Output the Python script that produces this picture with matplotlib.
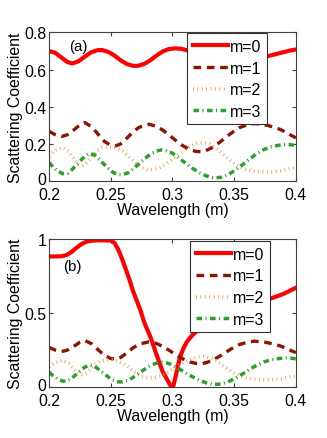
import numpy as np
import matplotlib
matplotlib.use("Agg")
import matplotlib.pyplot as plt
from matplotlib.transforms import ScaledTranslation

plt.rcParams['font.family'] = ['Liberation Sans', 'DejaVu Sans']

# m=0, panel (a)
wl_m0a = [0.200, 0.205, 0.210, 0.215, 0.219, 0.224, 0.229, 0.234, 0.239, 0.243,
          0.248, 0.253, 0.258, 0.263, 0.268, 0.272, 0.277, 0.282, 0.287, 0.292,
          0.297, 0.302, 0.307, 0.312, 0.318, 0.325, 0.332, 0.340, 0.348, 0.356,
          0.364, 0.372, 0.380, 0.388, 0.395, 0.400]
m0a = [0.700, 0.690, 0.665, 0.640, 0.633, 0.645, 0.670, 0.693, 0.704, 0.705,
       0.695, 0.675, 0.650, 0.630, 0.620, 0.620, 0.630, 0.650, 0.675, 0.697,
       0.710, 0.714, 0.712, 0.703, 0.688, 0.668, 0.650, 0.640, 0.638, 0.643,
       0.653, 0.664, 0.677, 0.690, 0.702, 0.708]

# m=0, panel (b)
wl_m0b = [0.200, 0.205, 0.210, 0.214, 0.218, 0.222, 0.226, 0.230, 0.235, 0.240,
          0.245, 0.250, 0.253, 0.256, 0.259, 0.262, 0.265, 0.268, 0.271, 0.274,
          0.277, 0.280, 0.283, 0.286, 0.289, 0.292, 0.295, 0.298, 0.3005, 0.303,
          0.306, 0.309, 0.312, 0.316, 0.320, 0.330, 0.340, 0.350, 0.360, 0.370,
          0.380, 0.390, 0.400]
m0b = [0.883, 0.883, 0.884, 0.892, 0.912, 0.940, 0.965, 0.982, 0.990, 0.992,
       0.992, 0.990, 0.975, 0.930, 0.870, 0.800, 0.730, 0.650, 0.585, 0.520,
       0.440, 0.380, 0.320, 0.245, 0.175, 0.105, 0.060, 0.015, 0.000, 0.090,
       0.200, 0.265, 0.310, 0.350, 0.380, 0.430, 0.470, 0.510, 0.545, 0.575,
       0.600, 0.630, 0.672]

# m=1 (same in both panels)
wl_m1 = [0.200, 0.205, 0.210, 0.215, 0.220, 0.225, 0.229, 0.235, 0.240, 0.245,
         0.250, 0.254, 0.258, 0.263, 0.268, 0.273, 0.281, 0.287, 0.292, 0.297,
         0.302, 0.308, 0.314, 0.319, 0.324, 0.329, 0.334, 0.339, 0.344, 0.349,
         0.354, 0.360, 0.366, 0.372, 0.377, 0.382, 0.387, 0.392, 0.397, 0.400]
m1 = [0.268, 0.250, 0.240, 0.250, 0.275, 0.303, 0.315, 0.290, 0.250, 0.213,
      0.193, 0.190, 0.200, 0.231, 0.265, 0.290, 0.306, 0.295, 0.275, 0.250,
      0.222, 0.192, 0.170, 0.160, 0.158, 0.170, 0.188, 0.213, 0.240, 0.265,
      0.287, 0.302, 0.310, 0.307, 0.300, 0.290, 0.279, 0.262, 0.243, 0.233]

# m=2
wl_m2 = [0.200, 0.204, 0.208, 0.212, 0.216, 0.220, 0.224, 0.227, 0.231, 0.235,
         0.239, 0.243, 0.247, 0.251, 0.255, 0.260, 0.265, 0.270, 0.275, 0.280,
         0.285, 0.290, 0.295, 0.300, 0.305, 0.310, 0.315, 0.320, 0.325, 0.330,
         0.335, 0.340, 0.345, 0.350, 0.355, 0.360, 0.365, 0.370, 0.375, 0.380,
         0.385, 0.390, 0.395, 0.400]
m2 = [0.136, 0.160, 0.176, 0.178, 0.160, 0.120, 0.088, 0.082, 0.100, 0.135,
      0.165, 0.180, 0.185, 0.185, 0.178, 0.160, 0.130, 0.098, 0.072, 0.062,
      0.063, 0.075, 0.095, 0.118, 0.145, 0.170, 0.190, 0.203, 0.207, 0.200,
      0.180, 0.150, 0.120, 0.095, 0.075, 0.062, 0.055, 0.052, 0.050, 0.050,
      0.052, 0.058, 0.068, 0.075]

# m=3
wl_m3 = [0.200, 0.203, 0.207, 0.211, 0.215, 0.219, 0.224, 0.229, 0.233, 0.237,
         0.241, 0.245, 0.250, 0.255, 0.259, 0.264, 0.268, 0.273, 0.277, 0.282,
         0.287, 0.291, 0.296, 0.300, 0.305, 0.310, 0.316, 0.322, 0.328, 0.333,
         0.339, 0.345, 0.351, 0.357, 0.363, 0.368, 0.374, 0.380, 0.386, 0.392,
         0.397, 0.400]
m3 = [0.100, 0.078, 0.055, 0.040, 0.042, 0.065, 0.100, 0.135, 0.150, 0.140,
      0.115, 0.088, 0.055, 0.036, 0.035, 0.045, 0.065, 0.095, 0.118, 0.145,
      0.162, 0.168, 0.162, 0.150, 0.125, 0.100, 0.070, 0.045, 0.027, 0.018,
      0.020, 0.035, 0.060, 0.090, 0.122, 0.147, 0.170, 0.185, 0.193, 0.197,
      0.195, 0.190]

xticks = [0.2, 0.25, 0.3, 0.35, 0.4]
xticklabels = ['0.2', '0.25', '0.3', '0.35', '0.4']

fs = 11.4
frame = '#404040'

fig = plt.figure(figsize=(3.27, 4.39), dpi=100)
ax1 = fig.add_axes([0.150, 0.585, 0.755, 0.339])
ax2 = fig.add_axes([0.150, 0.116, 0.755, 0.337])


def draw(ax, wl0, y0, ylim, yticks, yticklabels, tag, tagpos, legpos):
    ax.plot(wl0, y0, color='red', lw=3.0, label='m=0')
    ax.plot(wl_m1, m1, color='#8B1500', lw=2.4, dashes=(2.3, 1.7), label='m=1')
    ax.plot(wl_m2, m2, color='#F39A55', lw=2.6, dashes=(0.22, 1.0), label='m=2')
    ax.plot(wl_m3, m3, color='#2CA02C', lw=2.5, dashes=(1.6, 1.0, 0.3, 1.0),
            label='m=3')
    ax.set_xlim(0.2, 0.4)
    ax.set_ylim(*ylim)
    ax.set_xticks(xticks)
    ax.set_xticklabels(xticklabels)
    ax.set_yticks(yticks)
    ax.set_yticklabels(yticklabels)
    ax.tick_params(direction='in', top=True, right=True, labelsize=fs,
                   length=3, color=frame)
    ax.tick_params(axis='x', pad=4)
    ax.tick_params(axis='y', pad=2)
    # lift the "0" label a little so it clears the x tick labels
    lab0 = ax.get_yticklabels()[0]
    lab0.set_transform(lab0.get_transform() +
                       ScaledTranslation(0, 0.035, fig.dpi_scale_trans))
    for s in ax.spines.values():
        s.set_color(frame)
        s.set_linewidth(0.8)
    ax.set_xlabel('Wavelength (m)', fontsize=fs, labelpad=0.5)
    ax.set_ylabel('Scattering Coefficient', fontsize=fs, labelpad=1)
    ax.text(tagpos[0], tagpos[1], tag, fontsize=fs - 0.5, va='center')
    leg = ax.legend(loc='upper right', bbox_to_anchor=legpos, fontsize=fs,
                    handlelength=2.2, handletextpad=0.15, labelspacing=0.42,
                    borderpad=0.35, borderaxespad=0.0, fancybox=False,
                    framealpha=1.0, edgecolor='#333333')
    leg.get_frame().set_linewidth(0.8)


draw(ax1, wl_m0a, m0a, (0, 0.8), [0, 0.2, 0.4, 0.6, 0.8],
     ['0', '0.2', '0.4', '0.6', '0.8'], '(a)', (0.2165, 0.727), (0.883, 0.993))
draw(ax2, wl_m0b, m0b, (0, 1), [0, 0.5, 1], ['0', '0.5', '1'],
     '(b)', (0.2110, 0.818), (0.895, 0.986))

fig.savefig('out.png', dpi=100)
